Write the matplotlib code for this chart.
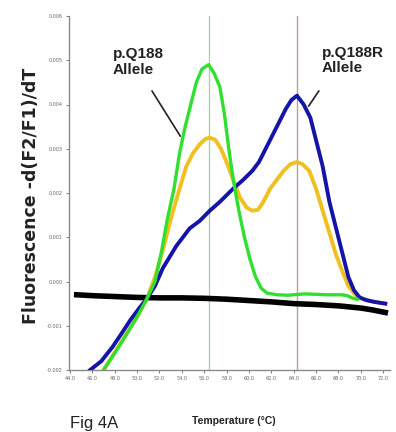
import matplotlib
matplotlib.use("Agg")
import matplotlib.pyplot as plt
import numpy as np

# melt curves (temperature in C, -d(F2/F1)/dT)
t_green = [47.0, 48.0, 49.0, 50.0, 50.9, 51.6, 52.2, 52.7, 53.3, 53.8, 54.3, 54.8, 55.3, 55.8, 56.4, 56.9, 57.4, 57.8, 58.2, 58.6, 59.1, 59.6, 60.1, 60.6, 61.1, 61.6, 62.5, 63.5, 65.0, 67.0, 68.3, 68.8, 69.3, 69.7]
v_green = [-0.0020, -0.00162, -0.00122, -0.0008, -0.00038, 0.0000, 0.0007, 0.0014, 0.0021, 0.0029, 0.0035, 0.0040, 0.0045, 0.0048, 0.0049, 0.0047, 0.0044, 0.0038, 0.0030, 0.0023, 0.0016, 0.0010, 0.0005, 0.0001, -0.00015, -0.00026, -0.0003, -0.00031, -0.00028, -0.0003, -0.0003, -0.00032, -0.00038, -0.0004]

t_yellow = [47.0, 48.0, 49.0, 50.0, 50.9, 51.6, 52.3, 53.0, 53.8, 54.4, 55.0, 55.6, 56.1, 56.5, 57.0, 57.5, 58.0, 58.6, 59.2, 59.8, 60.3, 60.8, 61.3, 61.9, 62.5, 63.1, 63.7, 64.3, 64.8, 65.4, 66.0, 66.6, 67.2, 67.8, 68.4, 68.9, 69.5, 70.2, 71.0, 72.2]
v_yellow = [-0.0020, -0.0016, -0.0012, -0.0008, -0.00038, 0.0001, 0.0007, 0.0014, 0.0021, 0.0026, 0.0029, 0.0031, 0.00322, 0.00325, 0.0032, 0.0030, 0.0027, 0.0023, 0.0019, 0.00167, 0.0016, 0.00162, 0.0018, 0.0021, 0.0023, 0.0025, 0.00265, 0.0027, 0.00265, 0.0025, 0.0021, 0.0016, 0.0011, 0.0006, 0.0002, -0.0001, -0.0003, -0.0004, -0.00045, -0.0005]

t_blue = [45.8, 46.8, 47.8, 48.6, 49.4, 50.2, 50.9, 51.6, 52.3, 53.5, 54.7, 55.6, 56.5, 57.4, 58.6, 59.5, 60.3, 60.9, 61.5, 62.1, 62.7, 63.3, 63.8, 64.3, 64.9, 65.5, 66.0, 66.6, 67.2, 67.9, 68.4, 68.9, 69.4, 69.9, 70.5, 71.2, 72.2]
v_blue = [-0.0020, -0.0018, -0.00148, -0.00118, -0.00087, -0.0006, -0.00038, -0.0001, 0.0003, 0.0008, 0.0012, 0.00137, 0.0016, 0.0018, 0.0021, 0.0023, 0.0025, 0.0027, 0.0030, 0.0033, 0.0036, 0.0039, 0.0041, 0.0042, 0.0040, 0.0037, 0.0032, 0.0026, 0.0018, 0.0011, 0.0006, 0.0001, -0.0002, -0.00036, -0.00042, -0.00046, -0.0005]

t_black = [44.6, 46.0, 48.0, 50.0, 52.0, 54.0, 56.0, 58.0, 60.0, 62.0, 64.0, 66.0, 68.0, 70.0, 71.0, 72.2]
v_black = [-0.0003, -0.00032, -0.00034, -0.00036, -0.00037, -0.00037, -0.00038, -0.0004, -0.00043, -0.00046, -0.0005, -0.00052, -0.00055, -0.0006, -0.00064, -0.0007]

peak_wt = 56.4
peak_mut = 64.3

x_ticks = np.arange(44.0, 72.1, 2.0)
y_ticks = [-0.002, -0.001, 0.0, 0.001, 0.002, 0.003, 0.004, 0.005, 0.006]

narrow = ["Liberation Sans Narrow", "Liberation Sans", "DejaVu Sans"]

fig = plt.figure(figsize=(3.96, 4.32), dpi=100)
ax = fig.add_axes([69 / 396, 1 - 370 / 432, 321 / 396, 354 / 432])

ax.axvline(peak_wt, color="#a9d3a5", lw=1.0, zorder=1)
ax.axvline(peak_mut, color="#c49a9a", lw=1.0, zorder=1)

ax.plot(t_black, v_black, color="black", lw=4.0, zorder=2)
ax.plot(t_yellow, v_yellow, color="#f0c020", lw=2.8, zorder=3)
ax.plot(t_blue, v_blue, color="#1414a8", lw=2.8, zorder=4)
ax.plot(t_green, v_green, color="#2fe02f", lw=2.4, zorder=5)

ax.set_xlim(43.91, 72.62)
ax.set_ylim(-0.002, 0.006)
ax.set_xticks(x_ticks)
ax.set_xticklabels([f"{t:.1f}" for t in x_ticks])
ax.set_yticks(y_ticks)
ax.set_yticklabels([f"{v:.3f}" for v in y_ticks])
ax.tick_params(labelsize=3.5, colors="#666666", length=2.5, width=0.6, pad=2)

for s in ["top", "right"]:
    ax.spines[s].set_visible(False)
for s in ["left", "bottom"]:
    ax.spines[s].set_color("#8a8a8a")
    ax.spines[s].set_linewidth(1.0)

# allele labels with leader lines
ax.text(47.85, 0.00529, "p.Q188\nAllele", ha="left", va="top", fontsize=11,
        fontweight="bold", family=narrow, color="#222222", linespacing=1.15)
ax.annotate("", xy=(54.0, 0.00323), xytext=(51.2, 0.00436),
            arrowprops=dict(arrowstyle="-", color="#222222", lw=1.2))
ax.text(66.5, 0.00533, "p.Q188R\nAllele", ha="left", va="top", fontsize=11,
        fontweight="bold", family=narrow, color="#222222", linespacing=1.15)
ax.annotate("", xy=(65.2, 0.00391), xytext=(66.4, 0.00436),
            arrowprops=dict(arrowstyle="-", color="#222222", lw=1.2))

fig.text(31 / 396, 1 - 196 / 432, "Fluorescence -d(F2/F1)/dT", rotation=90,
         ha="center", va="center", fontsize=12.5, fontweight="heavy", color="#222222")
fig.text(234 / 396, 1 - 421 / 432, "Temperature (\u00b0C)", ha="center", va="center",
         fontsize=7.5, fontweight="bold", family=narrow, color="#222222")
fig.text(70 / 396, 1 / 432, "Fig 4A", ha="left", va="bottom",
         fontsize=12, family=narrow, color="#222222")

fig.savefig("out.png", dpi=100)
